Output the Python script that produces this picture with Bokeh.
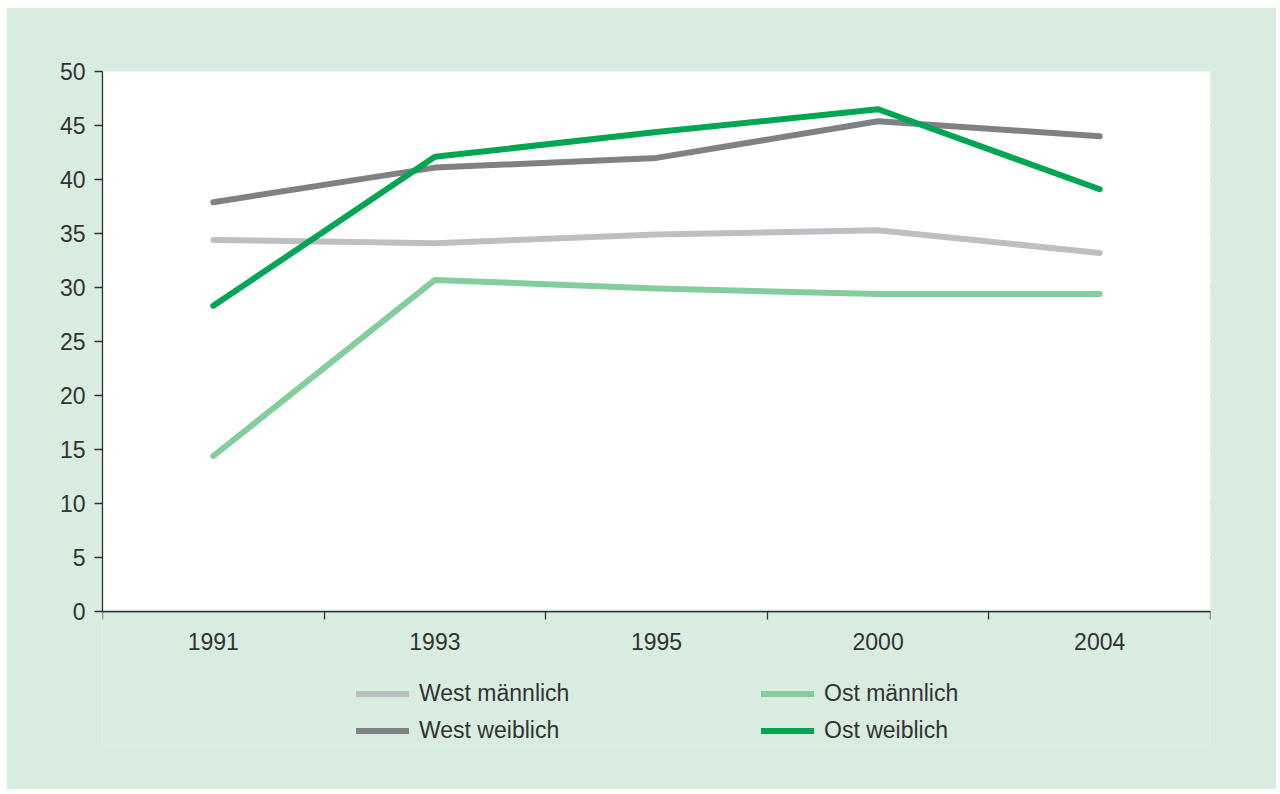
from bokeh.plotting import figure
from bokeh.models import FixedTicker, Range1d, Legend, LegendItem, BoxAnnotation
from bokeh.embed import file_html
from bokeh.resources import INLINE

years = ["1991", "1993", "1995", "2000", "2004"]
west_maennlich = [34.4, 34.1, 34.9, 35.3, 33.2]
west_weiblich = [37.9, 41.1, 42.0, 45.4, 44.0]
ost_maennlich = [14.4, 30.7, 29.9, 29.4, 29.4]
ost_weiblich = [28.3, 42.1, 44.4, 46.5, 39.1]
y_ticks = [0, 5, 10, 15, 20, 25, 30, 35, 40, 45, 50]

series = [
    ("West männlich", west_maennlich, "#bebfc3"),
    ("West weiblich", west_weiblich, "#808185"),
    ("Ost männlich", ost_maennlich, "#84cd9c"),
    ("Ost weiblich", ost_weiblich, "#00a651"),
]

FONT = "Liberation Sans"
BG = "#d8ece0"

x = [i + 0.5 for i in range(len(years))]

# frame extends below the value area to host the legend (y from -12.3 to 50)
p = figure(width=1270, height=782, output_backend="svg", toolbar_location=None,
           x_range=Range1d(0, len(years)), y_range=Range1d(-12.315, 50),
           min_border_left=96, min_border_right=66, min_border_top=64, min_border_bottom=45)
p.margin = (7, 0, 0, 6)
p.border_fill_color = BG
p.background_fill_color = BG
p.outline_line_color = None

p.add_layout(BoxAnnotation(bottom=0, top=50, fill_color="white", fill_alpha=1,
                           line_color=None, level="underlay"))

# axes
p.xaxis.fixed_location = 0
p.xaxis.ticker = FixedTicker(ticks=x, minor_ticks=list(range(len(years) + 1)))
p.xaxis.major_label_overrides = {xi: y for xi, y in zip(x, years)}
p.xaxis.major_tick_line_color = None
p.xaxis.major_tick_out = 8
p.xaxis.major_tick_in = 0
p.xaxis.minor_tick_out = 8
p.xaxis.minor_tick_in = 0
p.xaxis.minor_tick_line_color = "#333333"
p.xaxis.minor_tick_line_width = 1.3
p.xaxis.axis_line_color = "#333333"
p.xaxis.axis_line_width = 1.3
p.xaxis.major_label_standoff = 14

p.yaxis.ticker = FixedTicker(ticks=y_ticks)
p.yaxis.bounds = (0, 50)
p.yaxis.major_tick_out = 8
p.yaxis.major_tick_in = 0
p.yaxis.minor_tick_line_color = None
p.yaxis.major_tick_line_color = "#333333"
p.yaxis.major_tick_line_width = 1.3
p.yaxis.axis_line_color = "#333333"
p.yaxis.axis_line_width = 1.3
p.yaxis.major_label_standoff = 9

for ax in (p.xaxis, p.yaxis):
    ax.major_label_text_font = FONT
    ax.major_label_text_font_size = "23px"
    ax.major_label_text_color = "#333333"

p.xgrid.grid_line_color = None
p.ygrid.ticker = FixedTicker(ticks=y_ticks)
p.ygrid.grid_line_color = "#555555"
p.ygrid.grid_line_width = 1.3

items = []
for name, vals, color in series:
    r = p.line(x, vals, line_color=color, line_width=6, line_cap="round", line_join="round")
    items.append(LegendItem(label=name, renderers=[r]))

legend = Legend(items=items, orientation="vertical", ncols=2, location=(254, 0),
                glyph_width=53, glyph_height=27, label_height=27, label_width=332,
                label_standoff=10, spacing=10, padding=0, margin=0,
                label_text_font=FONT, label_text_font_size="23px", label_text_color="#333333",
                background_fill_alpha=0, border_line_color=None)
p.add_layout(legend, "center")

open("out.html", "w").write(file_html(p, INLINE))
